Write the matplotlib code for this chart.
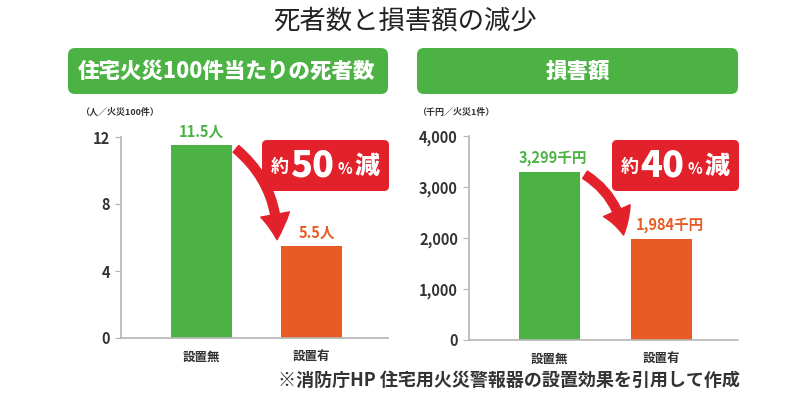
import numpy as np
import matplotlib
matplotlib.use("Agg")
import matplotlib.pyplot as plt
from matplotlib.patches import FancyBboxPatch, FancyArrowPatch

plt.rcParams['font.family'] = ['Noto Sans CJK JP', 'DejaVu Sans']

# data
categories = ['設置無', '設置有']
deaths = [11.5, 5.5]
death_labels = ['11.5人', '5.5人']
damage = [3299, 1984]
damage_labels = ['3,299千円', '1,984千円']

GREEN = '#4cb244'
ORANGE = '#e85b24'
RED = '#e3212b'
DARK = '#333333'
W, H = 810, 396

fig = plt.figure(figsize=(W / 100, H / 100), dpi=100)


def px(x, y):
    # pixel (from top-left) -> inches for dpi_scale_trans
    return x / 100, (H - y) / 100


def add_box(x0, y0, x1, y1, color, r=0.07):
    bx, by = px(x0, y1)
    p = FancyBboxPatch((bx, by), (x1 - x0) / 100, (y1 - y0) / 100,
                       boxstyle=f"round,pad=0,rounding_size={r}",
                       transform=fig.dpi_scale_trans, facecolor=color,
                       edgecolor='none', zorder=0)
    fig.patches.append(p)


def ftext(x, y, s, **kw):
    fig.text(x / W, 1 - y / H, s, **kw)


ftext(405, 21, '死者数と損害額の減少', fontsize=19, ha='center', va='center', color='#222222')

add_box(68, 48, 388, 94, GREEN)
add_box(417, 48, 738, 94, GREEN)
ftext(227, 71, '住宅火災100件当たりの死者数', fontsize=15.5, weight='heavy',
      color='white', ha='center', va='center')
ftext(578, 71, '損害額', fontsize=15.5, weight='heavy', color='white', ha='center', va='center')

ftext(80, 112, '（人／火災100件）', fontsize=6.5, weight='bold', color=DARK, ha='left', va='center')
ftext(417, 112, '（千円／火災1件）', fontsize=6.5, weight='bold', color=DARK, ha='left', va='center')


def make_axes(x0, x1, ytop, ybot):
    return fig.add_axes([x0 / W, 1 - ybot / H, (x1 - x0) / W, (ybot - ytop) / H])


def style(ax, ymax, ticks, ticklabels):
    ax.set_ylim(0, ymax)
    ax.set_xlim(-0.725, 1.69)
    for s in ['top', 'right']:
        ax.spines[s].set_visible(False)
    ax.spines['left'].set_color('#b5b5b5')
    ax.spines['bottom'].set_color('#b5b5b5')
    ax.spines['left'].set_linewidth(1.2)
    ax.spines['bottom'].set_linewidth(1.2)
    ax.set_yticks(ticks)
    ax.set_yticklabels(ticklabels, fontsize=10.5, weight='bold', color=DARK)
    ax.tick_params(axis='y', length=4, color='#b5b5b5', pad=4)
    ax.set_xticks([0, 1])
    ax.set_xticklabels(categories, fontsize=9, weight='bold', color=DARK)
    ax.tick_params(axis='x', length=0, pad=9)
    ax.patch.set_alpha(0)


bw = 0.55
arrow_style = 'simple,head_width=1.5,head_length=1.3,tail_width=0.45'
label_dx = [0, 4]

# left panel
ax1 = make_axes(121, 388, 137, 338)
ax1.bar([0, 1], deaths, width=bw, color=[GREEN, ORANGE])
style(ax1, 12, [0, 4, 8, 12], ['0', '4', '8', '12'])
for i, (v, lab) in enumerate(zip(deaths, death_labels)):
    ax1.annotate(lab, (i, v), xytext=(label_dx[i], 4), textcoords='offset points', ha='center',
                 va='bottom', fontsize=10.5, weight='bold', color=[GREEN, ORANGE][i])
ax1.add_patch(FancyArrowPatch((bw / 2 + 0.02, deaths[0] - 0.1), (1 - bw / 2 - 0.04, deaths[1] + 0.2),
                              connectionstyle='arc3,rad=-0.25', arrowstyle=arrow_style,
                              mutation_scale=14, color=RED, clip_on=False, zorder=5))

# right panel
ax2 = make_axes(469, 738, 136, 340)
ax2.bar([0, 1], damage, width=bw, color=[GREEN, ORANGE])
style(ax2, 4000, [0, 1000, 2000, 3000, 4000], ['0', '1,000', '2,000', '3,000', '4,000'])
for i, (v, lab) in enumerate(zip(damage, damage_labels)):
    ax2.annotate(lab, (i, v), xytext=(label_dx[i] + 2, 4), textcoords='offset points', ha='center',
                 va='bottom', fontsize=10.5, weight='bold', color=[GREEN, ORANGE][i])
ax2.add_patch(FancyArrowPatch((bw / 2 + 0.02, damage[0] - 30), (1 - bw / 2 - 0.06, damage[1] + 20),
                              connectionstyle='arc3,rad=-0.25', arrowstyle=arrow_style,
                              mutation_scale=14, color=RED, clip_on=False, zorder=5))

# red callouts
for dx, num in [(0, '50'), (350, '40')]:
    add_box(262 + dx, 140, 389 + dx, 191, RED, r=0.05)
    ftext(280 + dx, 167, '約', fontsize=13, weight='bold', color='white', ha='center', va='center')
    ftext(312 + dx, 165, num, fontsize=26, weight='heavy', color='white', ha='center', va='center')
    ftext(345 + dx, 169, '%', fontsize=11, weight='bold', color='white', ha='center', va='center')
    ftext(367 + dx, 166, '減', fontsize=18, weight='heavy', color='white', ha='center', va='center')

ftext(740, 380, '※消防庁HP 住宅用火災警報器の設置効果を引用して作成', fontsize=13,
      weight='bold', color=DARK, ha='right', va='center')

fig.savefig('out.png', dpi=100)
